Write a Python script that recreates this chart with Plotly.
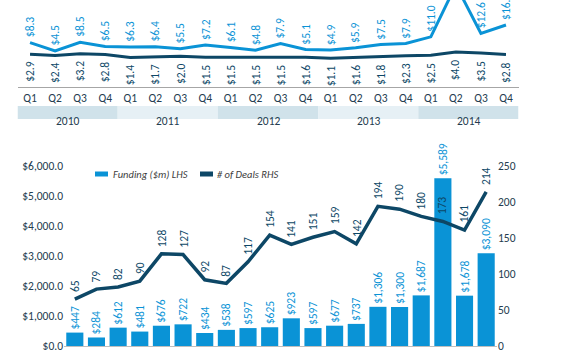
import plotly.graph_objects as go

years = ["2010", "2011", "2012", "2013", "2014"]
quarters = ["Q1", "Q2", "Q3", "Q4"] * 5
avg_deal = [8.3, 4.5, 8.5, 6.5, 6.3, 6.4, 5.5, 7.2, 6.1, 4.8, 7.9, 5.1, 4.9, 5.9, 7.5, 7.9, 11.0, 35.0, 12.6, 16.5]
median_deal = [2.9, 2.4, 3.2, 2.8, 1.4, 1.7, 2.0, 1.5, 1.5, 1.5, 1.5, 1.6, 1.1, 1.6, 1.8, 2.3, 2.5, 4.0, 3.5, 2.8]
funding = [447, 284, 612, 481, 676, 722, 434, 538, 597, 625, 923, 597, 677, 737, 1306, 1300, 1687, 5589, 1678, 3090]
deals = [65, 79, 82, 90, 128, 127, 92, 87, 117, 154, 141, 151, 159, 142, 194, 190, 180, 173, 161, 214]

W, H = 568, 350
LIGHT = "#0a93d6"
DARK = "#0d4766"
TXT = "#243c4f"
FONT = "Carlito, 'Liberation Sans Narrow', Lato, sans-serif"
FS = 11.5

def px_x(p):
    return p / W

def px_y(p):
    return 1 - p / H

idx = list(range(len(quarters)))

fig = go.Figure()

# top chart lines
fig.add_trace(go.Scatter(x=idx, y=avg_deal, mode="lines", line=dict(color=LIGHT, width=3),
                         xaxis="x", yaxis="y", showlegend=False, hoverinfo="skip"))
fig.add_trace(go.Scatter(x=idx, y=median_deal, mode="lines", line=dict(color=DARK, width=3),
                         xaxis="x", yaxis="y", showlegend=False, hoverinfo="skip"))

# bottom chart
fig.add_trace(go.Bar(x=idx, y=funding, marker=dict(color=LIGHT, line=dict(width=0)),
                     text=[f"${v:,}" for v in funding], textposition="outside", textangle=-90,
                     textfont=dict(color=LIGHT, size=FS, family=FONT), constraintext="none",
                     cliponaxis=False, xaxis="x2", yaxis="y2", showlegend=False, hoverinfo="skip"))
fig.add_trace(go.Scatter(x=idx, y=deals, mode="lines", line=dict(color=DARK, width=3.5),
                         xaxis="x2", yaxis="y3", showlegend=False, hoverinfo="skip"))

ann = []
for i in idx:
    ann.append(dict(x=i, y=avg_deal[i], xref="x", yref="y", text=f"${avg_deal[i]:.1f}", showarrow=False,
                    textangle=-90, yanchor="bottom", xanchor="center", yshift=3,
                    font=dict(color=LIGHT, size=FS, family=FONT)))
    ann.append(dict(x=i, y=median_deal[i], xref="x", yref="y", text=f"${median_deal[i]:.1f}", showarrow=False,
                    textangle=-90, yanchor="top", xanchor="center", yshift=-5,
                    font=dict(color=DARK, size=FS, family=FONT)))
    ann.append(dict(x=i, y=deals[i], xref="x2", yref="y3", text=str(deals[i]), showarrow=False,
                    textangle=-90, yanchor="bottom", xanchor="center", yshift=5,
                    font=dict(color=DARK, size=FS, family=FONT)))

# year bands
band_top, band_bot = 106, 119
shapes = []
band_cols = ["#d0e2ea", "#e6f0f5"]
for k, yr in enumerate(years):
    shapes.append(dict(type="rect", xref="x", yref="paper", x0=4 * k - 0.5, x1=4 * k + 3.5,
                       y0=px_y(band_bot), y1=px_y(band_top), fillcolor=band_cols[k % 2],
                       line=dict(width=0), layer="below"))
    ann.append(dict(x=4 * k + 1.5, y=px_y((band_top + band_bot) / 2), xref="x", yref="paper", text=yr,
                    showarrow=False, font=dict(color=TXT, size=FS, family=FONT)))

# legend (manual)
leg_y = 174
shapes.append(dict(type="rect", xref="paper", yref="paper", x0=px_x(95), x1=px_x(108),
                   y0=px_y(leg_y + 2.5), y1=px_y(leg_y - 2.5), fillcolor=LIGHT, line=dict(width=0)))
shapes.append(dict(type="rect", xref="paper", yref="paper", x0=px_x(200), x1=px_x(213),
                   y0=px_y(leg_y + 2.5), y1=px_y(leg_y - 2.5), fillcolor=DARK, line=dict(width=0)))
ann.append(dict(x=px_x(111), y=px_y(leg_y), xref="paper", yref="paper", text="<i>Funding ($m) LHS</i>",
                showarrow=False, xanchor="left", yanchor="middle", font=dict(color="#404040", size=10.5, family=FONT)))
ann.append(dict(x=px_x(215), y=px_y(leg_y), xref="paper", yref="paper", text="<i># of Deals RHS</i>",
                showarrow=False, xanchor="left", yanchor="middle", font=dict(color="#404040", size=10.5, family=FONT)))

axfont = dict(color=TXT, size=FS, family=FONT)

fig.update_layout(
    width=W, height=H, margin=dict(l=0, r=0, t=0, b=0),
    paper_bgcolor="white", plot_bgcolor="rgba(0,0,0,0)",
    template="none", showlegend=False, bargap=0.21,
    font=dict(family=FONT, color=TXT, size=FS),
    xaxis=dict(domain=[px_x(17.5), px_x(518.5)], range=[-0.5, 19.5], tickvals=idx, ticktext=quarters,
               showline=True, linecolor="#a6a6a6", linewidth=1, showgrid=False, zeroline=False,
               ticks="", tickfont=axfont, automargin=False, anchor="y"),
    yaxis=dict(domain=[px_y(87), 1], range=[-(87 - 60.6) / 2.16, 60.6 / 2.16], visible=False,
               automargin=False, anchor="x"),
    xaxis2=dict(domain=[px_x(64), px_x(497)], range=[-0.5, 19.5], showline=True, linecolor="#bfbfbf",
                showgrid=False, zeroline=False, showticklabels=False, ticks="", automargin=False, anchor="y2"),
    yaxis2=dict(domain=[px_y(346), px_y(166)], range=[0, 6000], dtick=1000, tickformat="$,.1f",
                showgrid=False, zeroline=False, showline=False, ticks="", tickfont=axfont,
                ticklabeloverflow="allow", automargin=False, anchor="x2"),
    yaxis3=dict(domain=[px_y(346), px_y(166)], range=[0, 250], dtick=50, overlaying="y2", side="right",
                showgrid=False, zeroline=False, showline=False, ticks="", tickfont=axfont,
                ticklabeloverflow="allow", automargin=False, anchor="x2"),
    annotations=ann, shapes=shapes,
)

fig.write_html("out.html")
